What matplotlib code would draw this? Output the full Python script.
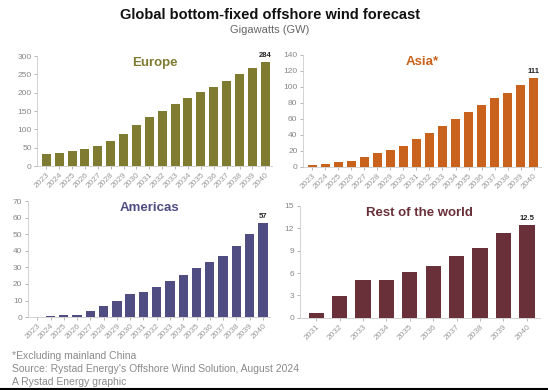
import matplotlib
matplotlib.use("Agg")
import matplotlib.pyplot as plt
from matplotlib.lines import Line2D

plt.rcParams["font.family"] = ["Liberation Sans", "DejaVu Sans"]

# data (GW)
years = [str(y) for y in range(2023, 2041)]
europe = [32, 35, 40, 47, 55, 68, 89, 112, 135, 150, 170, 185, 203, 216, 232, 250, 267, 284]
asia = [2, 4, 6, 8, 12, 17, 21, 26, 35, 42, 51, 60, 69, 77, 86, 93, 102, 111]
americas = [0, 0.5, 1, 1.5, 3.5, 6.5, 10, 14, 15, 18, 21.5, 25.5, 29.5, 33.5, 37, 43, 50, 57]
row_years = [str(y) for y in range(2031, 2041)]
row = [0.7, 2.9, 5.1, 5.1, 6.1, 7.0, 8.3, 9.4, 11.4, 12.5]

panels = [
    # name, x, y, colour, ymax, ystep, last label, axes rect, bar width
    ("Europe", years, europe, "#7f7b30", 300, 50, "284", [0.068, 0.574, 0.429, 0.282], 0.7),
    ("Asia*", years, asia, "#c8621c", 140, 20, "111", [0.553, 0.572, 0.434, 0.287], 0.7),
    ("Americas", years, americas, "#4f4d82", 70, 10, "57", [0.051, 0.187, 0.442, 0.297], 0.7),
    ("Rest of the world", row_years, row, "#6a3039", 15, 3, "12.5", [0.547, 0.185, 0.438, 0.287], 0.65),
]

grey = "#9a9a9a"
fig = plt.figure(figsize=(5.48, 3.90), dpi=100)

for name, xs, ys, col, ymax, step, lab, rect, bw in panels:
    ax = fig.add_axes(rect)
    ax.bar(range(len(xs)), ys, width=bw, color=col)
    ax.set_ylim(0, ymax)
    ax.set_xlim(-0.7, len(xs) - 0.45)
    ax.set_yticks(range(0, ymax + 1, step))
    ax.set_xticks(range(len(xs)))
    ax.set_xticklabels(xs, rotation=45, ha="right", rotation_mode="anchor")
    ax.tick_params(axis="both", labelsize=6, colors=grey, length=2, width=0.5, pad=2)
    ax.tick_params(axis="y", labelcolor="#888888")
    for s in ["top", "right"]:
        ax.spines[s].set_visible(False)
    for s in ["left", "bottom"]:
        ax.spines[s].set_color("#cccccc")
        ax.spines[s].set_linewidth(0.6)
    ax.text(0.5, 0.94, name, transform=ax.transAxes, ha="center", va="center",
            fontsize=9.5, fontweight="bold", color=col)
    ax.annotate(lab, (len(xs) - 1, ys[-1]), xytext=(0, 2), textcoords="offset points",
                ha="center", va="bottom", fontsize=5.5, fontweight="bold", color="#222222")

fig.text(0.493, 0.962, "Global bottom-fixed offshore wind forecast", ha="center", va="center",
         fontsize=10.5, fontweight="bold", color="#111111")
fig.text(0.493, 0.922, "Gigawatts (GW)", ha="center", va="center", fontsize=8, color="#666666")

notes = ["*Excluding mainland China",
         "Source: Rystad Energy's Offshore Wind Solution, August 2024",
         "A Rystad Energy graphic"]
for i, t in enumerate(notes):
    fig.text(0.022, 0.088 - i * 0.034, t, ha="left", va="center", fontsize=7.5, color="#8a8a8a")

fig.add_artist(Line2D([0, 1], [0.003, 0.003], color="black", linewidth=1.5, transform=fig.transFigure))

fig.savefig("out.png", dpi=100)
